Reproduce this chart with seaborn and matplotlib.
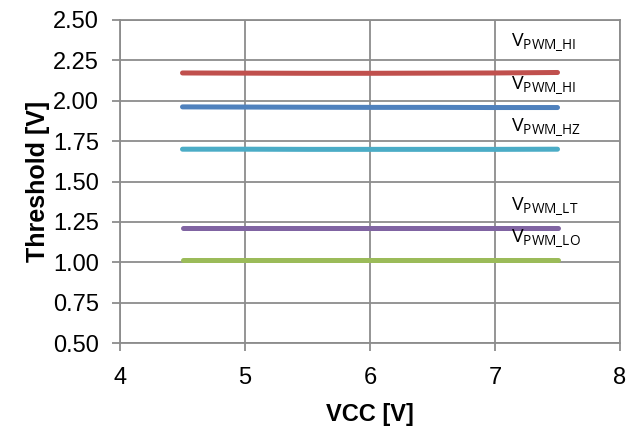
import matplotlib
matplotlib.use("Agg")
import matplotlib.pyplot as plt
import pandas as pd
import seaborn as sns

vcc = [4.5, 5.0, 5.5, 6.0, 6.5, 7.0, 7.5]
v_pwm_hi_rise = [2.172, 2.171, 2.170, 2.170, 2.171, 2.172, 2.175]
v_pwm_hi_fall = [1.962, 1.961, 1.960, 1.959, 1.959, 1.958, 1.958]
v_pwm_hz = [1.700, 1.700, 1.699, 1.699, 1.699, 1.699, 1.700]
v_pwm_lt = [1.213, 1.213, 1.213, 1.213, 1.213, 1.213, 1.213]
v_pwm_lo = [1.017, 1.017, 1.017, 1.017, 1.017, 1.017, 1.017]

series = {
    "hi_rise": v_pwm_hi_rise,
    "hi_fall": v_pwm_hi_fall,
    "hz": v_pwm_hz,
    "lt": v_pwm_lt,
    "lo": v_pwm_lo,
}
colors = ["#C0504D", "#4F81BD", "#4BACC6", "#8064A2", "#9BBB59"]

labels = [r"V$_{\mathrm{PWM\_HI}}$", r"V$_{\mathrm{PWM\_HI}}$", r"V$_{\mathrm{PWM\_HZ}}$",
          r"V$_{\mathrm{PWM\_LT}}$", r"V$_{\mathrm{PWM\_LO}}$"]
label_x = [7.13, 7.13, 7.13, 7.13, 7.13]
label_y = [2.34, 2.075, 1.815, 1.325, 1.125]

sns.set_style("white")
plt.rcParams["font.family"] = ["Liberation Sans", "DejaVu Sans"]
plt.rcParams["mathtext.fontset"] = "custom"
plt.rcParams["mathtext.rm"] = "Open Sans"
plt.rcParams["text.color"] = "black"

df = pd.DataFrame({"vcc": vcc, **series}).melt(id_vars="vcc", var_name="curve", value_name="v")

fig = plt.figure(figsize=(6.36, 4.29), dpi=100)
ax = fig.add_axes([120 / 636, 1 - 343 / 429, 500 / 636, 323 / 429])

sns.lineplot(data=df, x="vcc", y="v", hue="curve", palette=colors, ax=ax,
             linewidth=3.6, legend=False, solid_capstyle="round", zorder=3)

for lab, lx, ly in zip(labels, label_x, label_y):
    ax.text(lx, ly, lab, fontsize=14, family="Open Sans", color="black", zorder=4)

ax.set_xlim(4, 8)
ax.set_ylim(0.5, 2.5)
ax.set_xticks([4, 5, 6, 7, 8])
ax.set_yticks([0.5, 0.75, 1.0, 1.25, 1.5, 1.75, 2.0, 2.25, 2.5])
ax.set_yticklabels([f"{t:.2f}" for t in ax.get_yticks()])
ax.grid(True, color="#8C8C8C", linewidth=1.3)
for s in ax.spines.values():
    s.set_color("#8C8C8C")
    s.set_linewidth(1.3)
ax.tick_params(axis="both", which="both", length=6, width=1.3, color="#8C8C8C",
               labelsize=17, labelcolor="black", direction="out",
               bottom=True, left=True)
ax.tick_params(axis="y", pad=9)
ax.tick_params(axis="x", pad=11)
ax.set_xlabel("VCC [V]", fontsize=17, fontweight="bold", labelpad=10, color="black")
ax.set_ylabel("Threshold [V]", fontsize=18, fontweight="bold", labelpad=2, color="black")

fig.savefig("out.png", dpi=100)
